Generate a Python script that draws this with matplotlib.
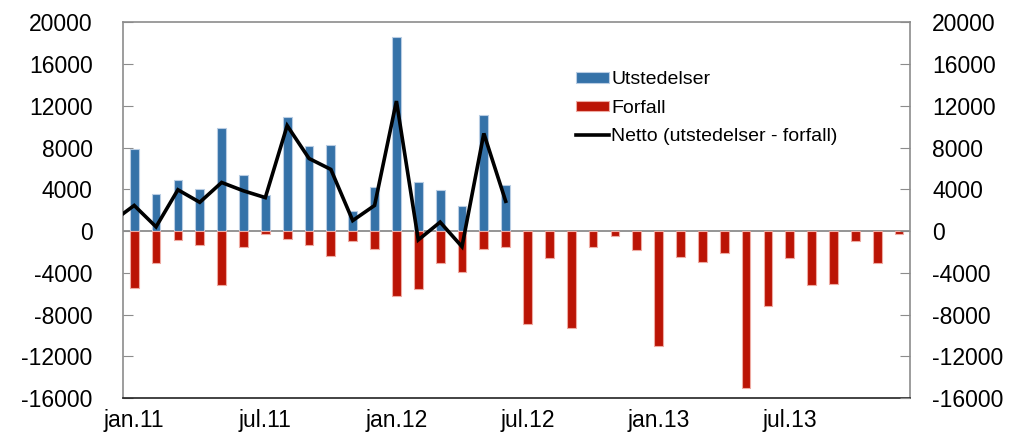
import matplotlib.pyplot as plt
import numpy as np

plt.rcParams['font.family'] = ['Liberation Sans', 'DejaVu Sans']

# months jan.11 .. des.13
utstedelser = [7900, 3500, 4850, 4050, 9850, 5400, 3450, 10900, 8150, 8250, 1950, 4200,
               18600, 4650, 3900, 2400, 11150, 4450]
forfall = [-5500, -3050, -900, -1300, -5200, -1550, -300, -750, -1300, -2350, -950, -1750,
           -6200, -5550, -3050, -3900, -1750, -1550,
           -8950, -2600, -9300, -1550, -500, -1800, -11050, -2450, -2950, -2100, -15000, -7200,
           -2600, -5150, -5050, -1000, -3050, -250]
# first value is des.10 (outside the plotted range, gives the line entering from the left)
netto = [900, 2450, 400, 3950, 2750, 4650, 3850, 3200, 10100, 6950, 5900, 1000, 2450,
         12450, -850, 850, -1500, 9350, 2850]
xticklabels = ['jan.11', 'jul.11', 'jan.12', 'jul.12', 'jan.13', 'jul.13']

blue = '#3572a8'
red = '#bb1405'

fig = plt.figure(figsize=(10.23, 4.41), dpi=100)
ax = fig.add_axes([0.1205, 0.0975, 0.769, 0.852])

x_all = np.arange(len(forfall))
x_ut = np.arange(len(utstedelser))
x_net = np.arange(len(netto)) - 1

b1 = ax.bar(x_ut, utstedelser, width=0.4, color=blue, edgecolor='#b9cde3', linewidth=0.8,
            label='Utstedelser', zorder=2)
b2 = ax.bar(x_all, forfall, width=0.4, color=red, edgecolor='#eeaaa2', linewidth=0.8,
            label='Forfall', zorder=2)
ax.axhline(0, color='#8c8c8c', linewidth=1.3, zorder=1)
l1, = ax.plot(x_net, netto, color='black', linewidth=2.6, solid_joinstyle='miter',
              label='Netto (utstedelser - forfall)', zorder=3)

ax.set_xlim(-0.5, len(forfall) - 0.5)
ax.set_ylim(-16000, 20000)
yt = np.arange(-16000, 20001, 4000)
ax.set_yticks(yt)
ax.set_yticklabels([str(v) for v in yt])
ax.set_xticks(np.arange(0, 36, 6))
ax.set_xticklabels(xticklabels)
ax.tick_params(axis='x', length=0, labelsize=16.5, pad=8)
ax.tick_params(axis='y', direction='in', length=7, color='#8c8c8c', labelsize=16.5, pad=22)

for s in ['left', 'right', 'top']:
    ax.spines[s].set_color('#8c8c8c')
    ax.spines[s].set_linewidth(1.2)
ax.spines['bottom'].set_color('#222222')
ax.spines['bottom'].set_linewidth(1.2)

ax2 = ax.twinx()
ax2.set_ylim(-16000, 20000)
ax2.set_yticks(yt)
ax2.set_yticklabels([str(v) for v in yt])
ax2.tick_params(axis='y', direction='in', length=7, color='#8c8c8c', labelsize=16.5, pad=16)
for s in ax2.spines.values():
    s.set_visible(False)

leg = ax.legend([b1, b2, l1], [b1.get_label(), b2.get_label(), l1.get_label()],
                loc='upper left', bbox_to_anchor=(0.5655, 0.89), frameon=False, fontsize=14,
                handlelength=1.7, handleheight=0.45, handletextpad=0.12, labelspacing=0.58,
                borderaxespad=0)

fig.savefig('out.png', dpi=100)
